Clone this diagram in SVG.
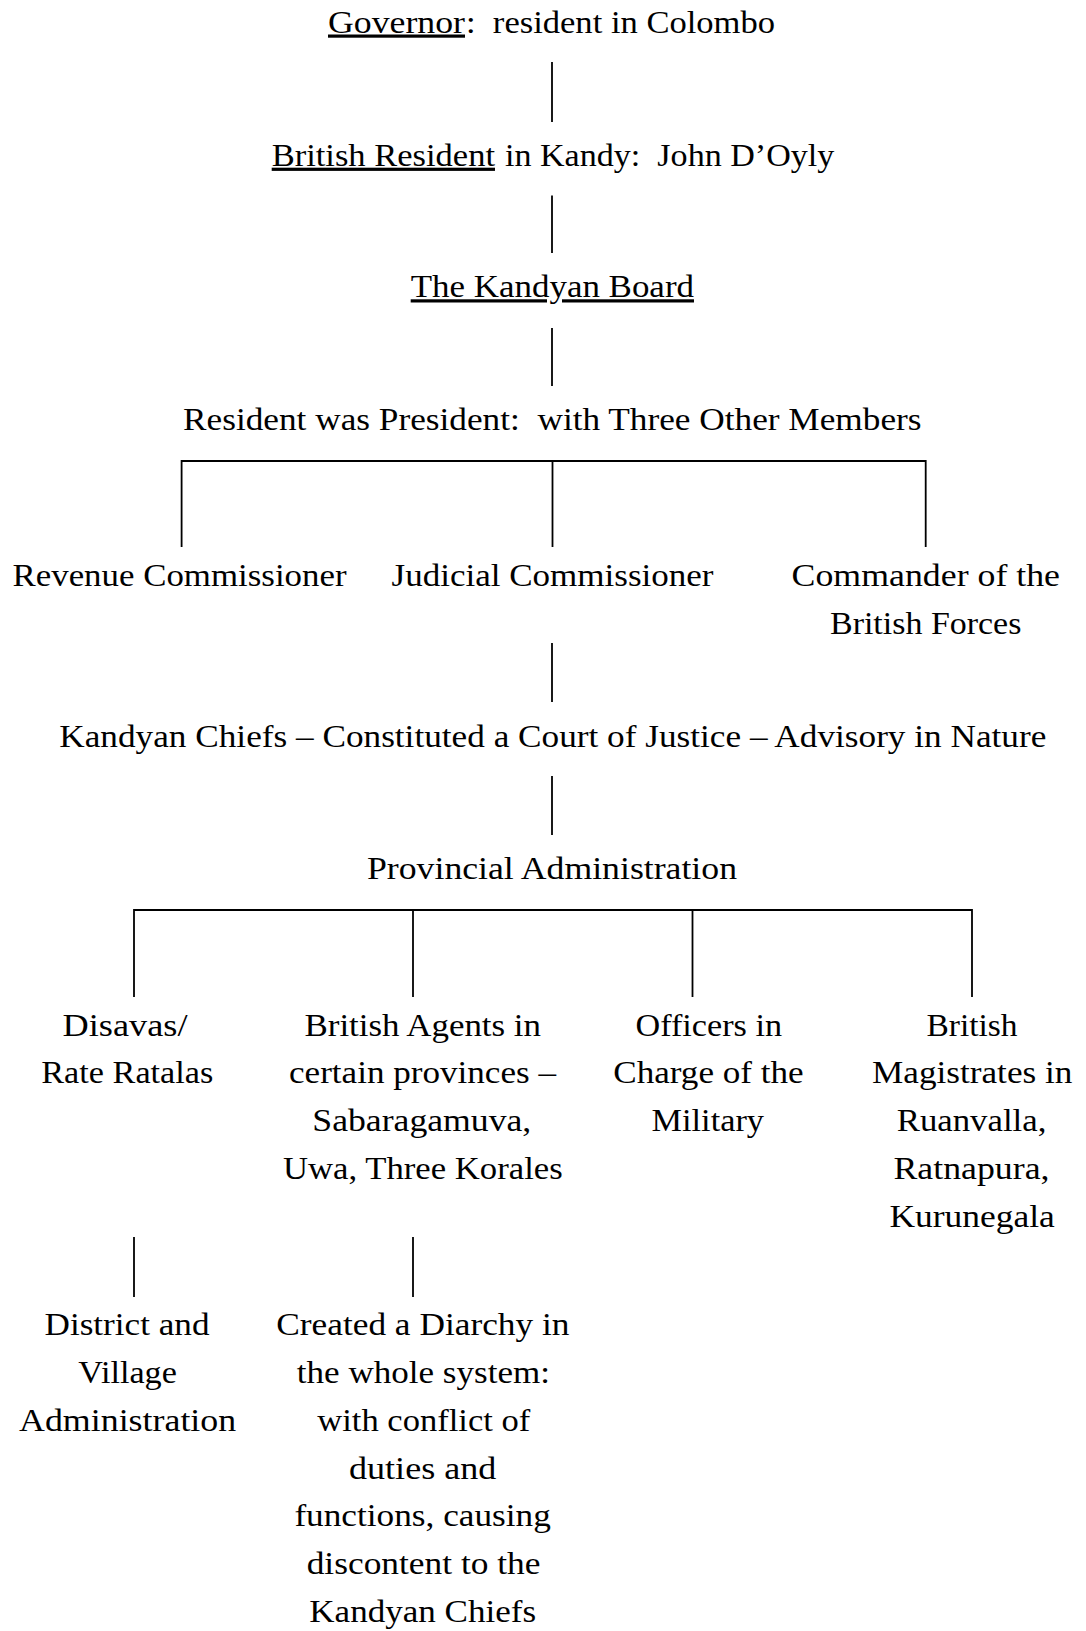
<svg xmlns="http://www.w3.org/2000/svg" width="1086" height="1631" viewBox="0 0 1086 1631">
<style>
  text { font-family: "Liberation Serif", "Times New Roman", serif; font-size: 32px; fill: #000; white-space: pre; }
  .u { text-decoration: underline; }
  .c { stroke: #000; stroke-width: 1.8; fill: none; }
</style>
<rect width="1086" height="1631" fill="#fff"/>
<g id="connectors">
  <line class="c" x1="552" y1="62" x2="552" y2="122"/>
  <line class="c" x1="552" y1="195.5" x2="552" y2="253"/>
  <line class="c" x1="552" y1="328" x2="552" y2="386"/>
  <path class="c" d="M181.6 547 V461 H925.7 V547"/>
  <line class="c" x1="552.5" y1="461" x2="552.5" y2="547"/>
  <line class="c" x1="552" y1="643" x2="552" y2="702"/>
  <line class="c" x1="552" y1="776" x2="552" y2="835"/>
  <path class="c" d="M134 997 V910 H972 V997"/>
  <line class="c" x1="413" y1="910" x2="413" y2="997"/>
  <line class="c" x1="692.5" y1="910" x2="692.5" y2="997"/>
  <line class="c" x1="134" y1="1237" x2="134" y2="1297"/>
  <line class="c" x1="413" y1="1237" x2="413" y2="1297"/>
</g>
<g id="governor">
  <text class="u" x="328" y="32.5" textLength="137" lengthAdjust="spacingAndGlyphs">Governor</text>
  <text x="466" y="32.5" textLength="309" lengthAdjust="spacingAndGlyphs">:  resident in Colombo</text>
</g>
<g id="british-resident">
  <text class="u" x="271.7" y="165.7" textLength="223.3" lengthAdjust="spacingAndGlyphs">British Resident</text>
  <text x="505" y="165.7" textLength="329.3" lengthAdjust="spacingAndGlyphs">in Kandy:  John D’Oyly</text>
</g>
<g id="kandyan-board">
  <text class="u" x="410.7" y="297.3" textLength="283.3" lengthAdjust="spacingAndGlyphs">The Kandyan Board</text>
</g>
<g id="resident-president">
  <text x="183" y="430" textLength="738.5" lengthAdjust="spacingAndGlyphs">Resident was President:  with Three Other Members</text>
</g>
<g id="revenue-commissioner">
  <text x="12.5" y="585.7" textLength="334" lengthAdjust="spacingAndGlyphs">Revenue Commissioner</text>
</g>
<g id="judicial-commissioner">
  <text x="391.5" y="585.7" textLength="322" lengthAdjust="spacingAndGlyphs">Judicial Commissioner</text>
</g>
<g id="commander">
  <text x="791.6" y="585.7" textLength="268.4" lengthAdjust="spacingAndGlyphs">Commander of the</text>
  <text x="830" y="633.5" textLength="191.4" lengthAdjust="spacingAndGlyphs">British Forces</text>
</g>
<g id="kandyan-chiefs">
  <text x="59.3" y="747" textLength="987" lengthAdjust="spacingAndGlyphs">Kandyan Chiefs – Constituted a Court of Justice – Advisory in Nature</text>
</g>
<g id="provincial-administration">
  <text x="367" y="879" textLength="370" lengthAdjust="spacingAndGlyphs">Provincial Administration</text>
</g>
<g id="disavas">
  <text x="62.5" y="1035.5" textLength="125" lengthAdjust="spacingAndGlyphs">Disavas/</text>
  <text x="41.3" y="1083.3" textLength="172" lengthAdjust="spacingAndGlyphs">Rate Ratalas</text>
</g>
<g id="british-agents">
  <text x="304.5" y="1035.5" textLength="236.5" lengthAdjust="spacingAndGlyphs">British Agents in</text>
  <text x="289" y="1083.3" textLength="267" lengthAdjust="spacingAndGlyphs">certain provinces –</text>
  <text x="312.3" y="1131.2" textLength="219" lengthAdjust="spacingAndGlyphs">Sabaragamuva,</text>
  <text x="283" y="1179" textLength="279.7" lengthAdjust="spacingAndGlyphs">Uwa, Three Korales</text>
</g>
<g id="officers-military">
  <text x="635.5" y="1035.5" textLength="146.5" lengthAdjust="spacingAndGlyphs">Officers in</text>
  <text x="613.3" y="1083.3" textLength="190.3" lengthAdjust="spacingAndGlyphs">Charge of the</text>
  <text x="651.5" y="1131.2" textLength="112.5" lengthAdjust="spacingAndGlyphs">Military</text>
</g>
<g id="british-magistrates">
  <text x="926.5" y="1035.5" textLength="91" lengthAdjust="spacingAndGlyphs">British</text>
  <text x="872" y="1083.3" textLength="200.4" lengthAdjust="spacingAndGlyphs">Magistrates in</text>
  <text x="896.7" y="1131.2" textLength="149.7" lengthAdjust="spacingAndGlyphs">Ruanvalla,</text>
  <text x="893.5" y="1179" textLength="156" lengthAdjust="spacingAndGlyphs">Ratnapura,</text>
  <text x="889.4" y="1226.9" textLength="165.4" lengthAdjust="spacingAndGlyphs">Kurunegala</text>
</g>
<g id="district-village">
  <text x="44.5" y="1335" textLength="165" lengthAdjust="spacingAndGlyphs">District and</text>
  <text x="78.3" y="1382.8" textLength="98.6" lengthAdjust="spacingAndGlyphs">Village</text>
  <text x="19" y="1430.7" textLength="217.2" lengthAdjust="spacingAndGlyphs">Administration</text>
</g>
<g id="diarchy">
  <text x="276.2" y="1335" textLength="293.3" lengthAdjust="spacingAndGlyphs">Created a Diarchy in</text>
  <text x="296.8" y="1382.8" textLength="253.2" lengthAdjust="spacingAndGlyphs">the whole system:</text>
  <text x="317.3" y="1430.7" textLength="213" lengthAdjust="spacingAndGlyphs">with conflict of</text>
  <text x="349" y="1478.5" textLength="147.3" lengthAdjust="spacingAndGlyphs">duties and</text>
  <text x="294.4" y="1526.4" textLength="256.4" lengthAdjust="spacingAndGlyphs">functions, causing</text>
  <text x="306.7" y="1574.2" textLength="233.8" lengthAdjust="spacingAndGlyphs">discontent to the</text>
  <text x="309.3" y="1622" textLength="226.8" lengthAdjust="spacingAndGlyphs">Kandyan Chiefs</text>
</g>
</svg>
